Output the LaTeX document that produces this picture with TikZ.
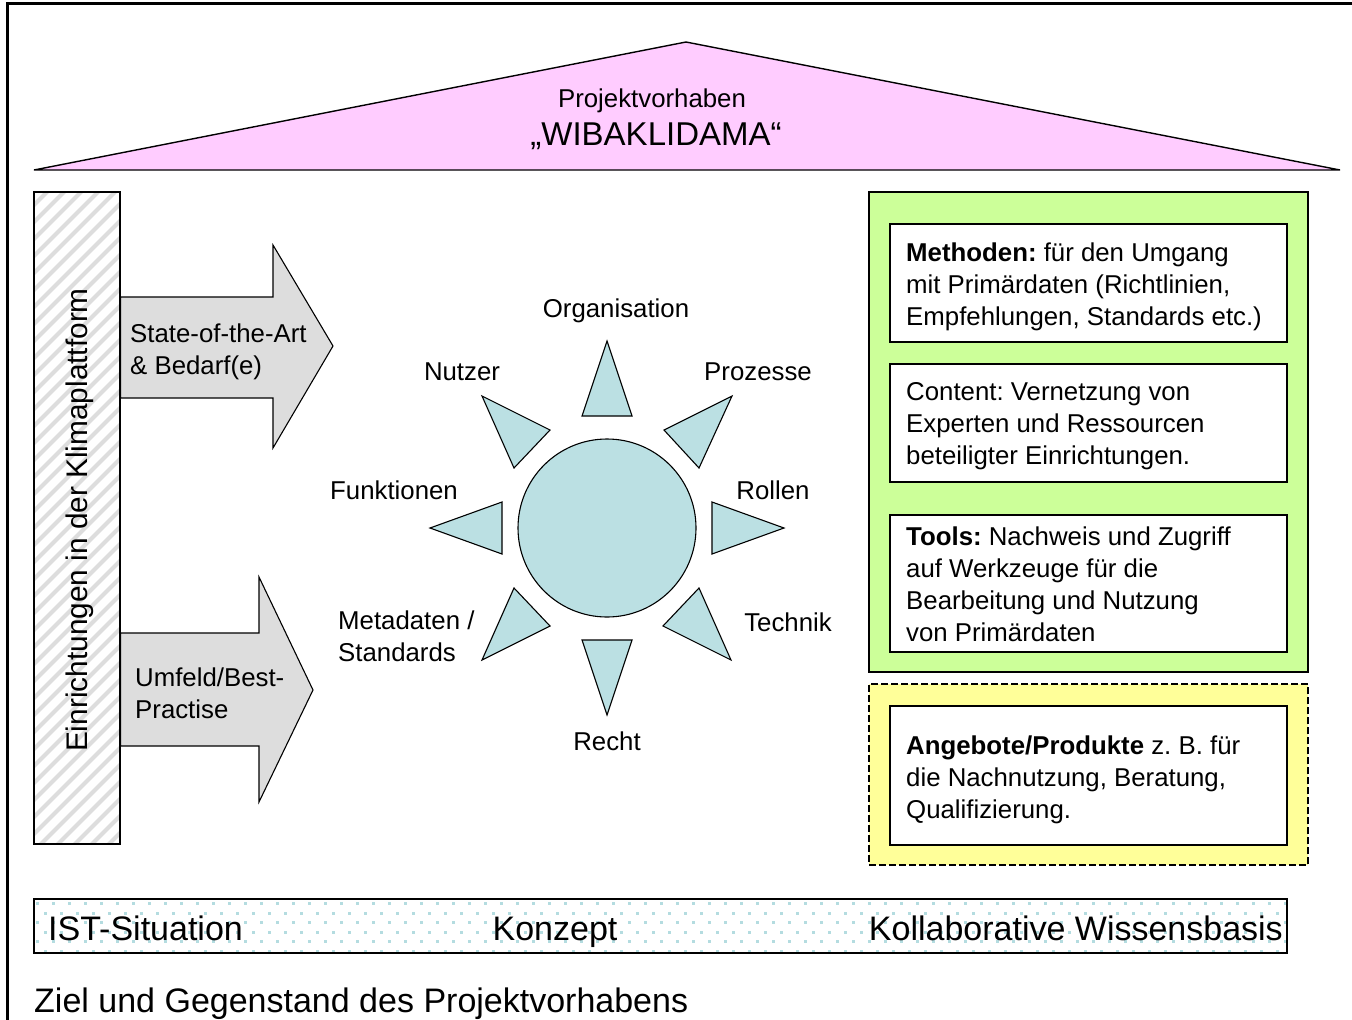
\documentclass[tikz,border=0pt]{standalone}
\usepackage{fontspec}
\setmainfont{Liberation Sans}
\definecolor{roof}{HTML}{FFCCFF}
\definecolor{sunc}{HTML}{BBE0E3}
\definecolor{arrowgray}{HTML}{DDDDDD}
\definecolor{greenbg}{HTML}{CCFF99}
\definecolor{yellowbg}{HTML}{FFFF99}
\definecolor{dotblue}{HTML}{B4DCE0}
\definecolor{hatchc}{HTML}{DDDDDD}
\begin{document}
\frenchspacing
\begin{tikzpicture}[x=1pt,y=-1pt,
  txt/.style={inner sep=0pt, align=left, font=\fontsize{25.8}{32}\selectfont},
  bigtxt/.style={inner sep=0pt, font=\fontsize{34}{40}\selectfont},
  ray/.style={draw, line width=1.1pt, fill=sunc, line join=miter},
  whitebox/.style={draw, line width=1.2pt, fill=white, inner sep=0pt, minimum width=397pt},
  fatarrow/.style={draw, line width=1.1pt, fill=arrowgray, line join=miter}]
\useasboundingbox (0,0) rectangle (1352,1020);
\fill[white] (0,0) rectangle (1352,1020);
% frame
\draw[line width=3pt] (7,1020) -- (7,3) -- (1352,3);
% roof
\draw[line width=1.4pt, fill=roof, line join=miter] (34,170) -- (686,42) -- (1340,170) -- cycle;
\node[txt, anchor=base] (proj) at (652,107) {Projektvorhaben};
\node[bigtxt, anchor=base, font=\fontsize{33}{40}\selectfont] (wiba) at (656,145) {„WIBAKLIDAMA“};
% left hatched bar
\begin{scope}
  \clip (34,192) rectangle (120,844);
  \foreach \i in {0,...,46} \draw[hatchc, line width=4pt] (30,192+\i*17) -- ++(110,-110);
\end{scope}
\node[draw, line width=1.2pt, minimum width=86pt, minimum height=652pt, inner sep=0pt] (bar) at (77,518) {};
\node[rotate=90, inner sep=0pt, font=\fontsize{29.8}{34}\selectfont] (bartext) at (79.5,520) {Einrichtungen in der Klimaplattform};
% arrows
\draw[fatarrow] (bar.east |- 0,297) coordinate (a1s) -- (273,297) -- (273,245) -- (333,346) coordinate (a1tip) -- (273,448) -- (273,398) -- (bar.east |- 0,398) -- cycle;
\node[txt, anchor=west] (a1text) at (130,352) {State-of-the-Art\\\& Bedarf(e)};
\draw[fatarrow] (bar.east |- 0,633) coordinate (a2s) -- (259,633) -- (259,577) -- (313,690) coordinate (a2tip) -- (259,802) -- (259,746) -- (bar.east |- 0,746) -- cycle;
\node[txt, anchor=west] (a2text) at (135,693.5) {Umfeld/Best-\\Practise};
% sun
\node[circle, draw, line width=1.1pt, fill=sunc, minimum size=178pt, inner sep=0pt] (sun) at (607,528) {};
\draw[ray] (582,416) -- (607,341) -- (632,416) -- cycle;
\draw[ray] (582,640) -- (607,715) -- (632,640) -- cycle;
\draw[ray] (502,502) -- (430,528) -- (502,554) -- cycle;
\draw[ray] (712,502) -- (784,528) -- (712,554) -- cycle;
\draw[ray] (482,396) -- (550,430) -- (514,468) -- cycle;
\draw[ray] (732,396) -- (664,430) -- (699,468) -- cycle;
\draw[ray] (514,588) -- (550,626) -- (482,660) -- cycle;
\draw[ray] (699,588) -- (663,626) -- (731,660) -- cycle;
\node[txt, anchor=base] (lorg) at (616,317) {Organisation};
\node[txt, anchor=base] (lnutz) at (462,380) {Nutzer};
\node[txt, anchor=base] (lproz) at (758,380) {Prozesse};
\node[txt, anchor=base] (lfunk) at (394,499) {Funktionen};
\node[txt, anchor=base] (lroll) at (773,499) {Rollen};
\node[txt, anchor=west] (lmeta) at (338,636.5) {Metadaten /\\Standards};
\node[txt, anchor=base] (ltech) at (788,631) {Technik};
\node[txt, anchor=base] (lrecht) at (607,750) {Recht};
% green box
\node[draw, line width=1.2pt, fill=greenbg, minimum width=439pt, minimum height=480pt, inner sep=0pt] (green) at (1088.5,432) {};
\node[whitebox, minimum height=118pt] (b1) at (1088.5,283) {};
\node[txt, anchor=west] (t1) at (906,287) {\textbf{Methoden:} für den Umgang\\mit Primärdaten (Richtlinien,\\Empfehlungen, Standards etc.)};
\node[whitebox, minimum height=118pt] (b2) at (1088.5,423) {};
\node[txt, anchor=west] (t2) at (906,426) {Content: Vernetzung von\\Experten und Ressourcen\\beteiligter Einrichtungen.};
\node[whitebox, minimum height=137pt] (b3) at (1088.5,583.5) {};
\node[txt, anchor=west] (t3) at (906,584) {\textbf{Tools:} Nachweis und Zugriff\\auf Werkzeuge für die\\Bearbeitung und Nutzung\\von Primärdaten};
% yellow box
\node[draw, dash pattern=on 7pt off 3pt, line width=1.1pt, fill=yellowbg, minimum width=439pt, minimum height=181pt, inner sep=0pt] (yellow) at (1088.5,774.5) {};
\node[whitebox, minimum height=139pt] (b4) at (1088.5,775.5) {};
\node[txt, anchor=west] (t4) at (906,780) {\textbf{Angebote/Produkte} z. B. für\\die Nachnutzung, Beratung,\\Qualifizierung.};
% bottom bar
\begin{scope}
  \clip (34,899) rectangle (1287,953);
  \foreach \r in {0,...,5} {
    \foreach \c in {0,...,80} {
      \pgfmathsetmacro{\xx}{36+\c*16+mod(\r,2)*8}
      \pgfmathsetmacro{\yy}{902+\r*9.5}
      \fill[dotblue] (\xx,\yy) rectangle ++(3,3);
    }
  }
\end{scope}
\node[draw, line width=1.2pt, minimum width=1253pt, minimum height=54pt, inner sep=0pt] (basebar) at (660.5,926) {};
\node[bigtxt, anchor=base west] (ist) at (48,940) {IST-Situation};
\node[bigtxt, anchor=base] (konz) at (555,940) {Konzept};
\node[bigtxt, anchor=base east] (koll) at (1283,940) {Kollaborative Wissensbasis};
\node[bigtxt, anchor=base west] (title) at (34,1012) {Ziel und Gegenstand des Projektvorhabens};
\end{tikzpicture}
\end{document}
